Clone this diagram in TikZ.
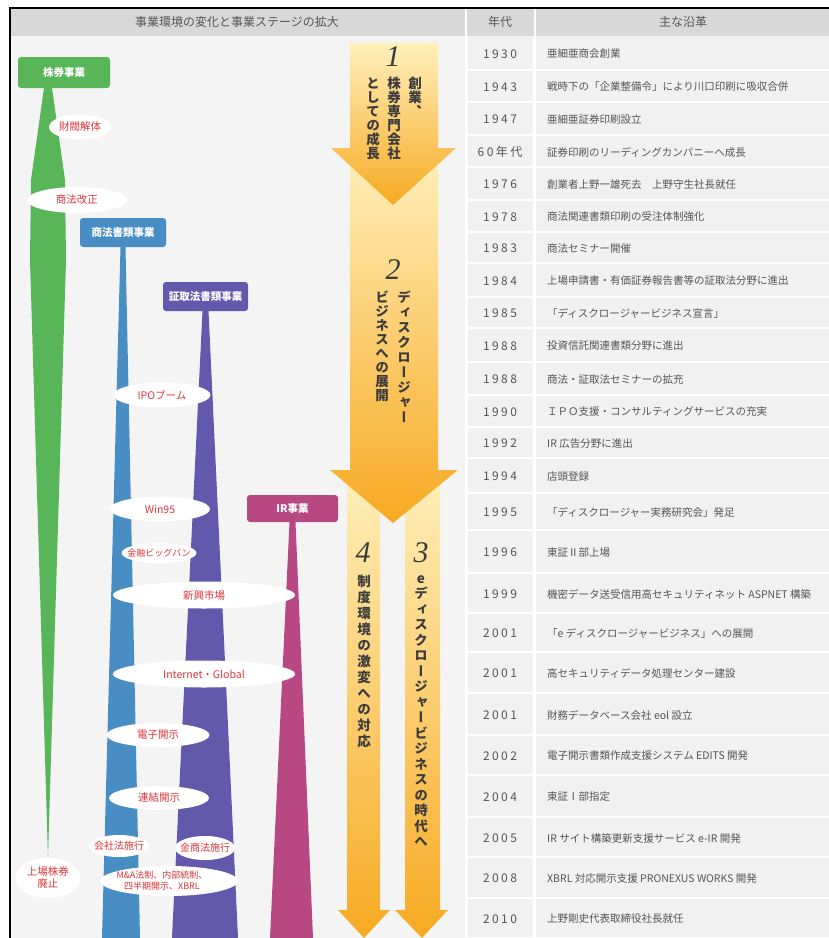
\documentclass[tikz,border=0pt]{standalone}
\usepackage{fontspec}
\usepackage{graphicx}
\setmainfont{Noto Sans CJK JP}
\newfontfamily\vjp{Noto Sans CJK JP}[RawFeature=+vert]
\newfontfamily\yearf{Noto Sans CJK JP}[LetterSpace=20]
\newfontfamily\numf{Liberation Serif}
\usetikzlibrary{shapes.geometric}
\definecolor{bgc}{RGB}{244,244,244}
\definecolor{hdrc}{RGB}{216,216,216}
\definecolor{cellc}{RGB}{241,241,241}
\definecolor{txtc}{RGB}{85,85,85}
\definecolor{vtc}{RGB}{60,60,60}
\definecolor{evred}{RGB}{222,52,58}
\definecolor{gc}{RGB}{88,182,88}
\definecolor{bc}{RGB}{72,142,196}
\definecolor{pc}{RGB}{98,88,172}
\definecolor{mc}{RGB}{184,72,132}
\definecolor{paleY}{RGB}{255,240,188}
\definecolor{deepO}{RGB}{247,170,34}
\makeatletter
\newcommand\vtxt[2][14pt]{\vbox{\baselineskip=#1\relax\lineskiplimit=-20pt\relax\@tfor\vch:=#2\do{\hbox to 1em{\hss\vch\hss}}}}
\makeatother
\newcommand\evt[6]{\fill[white] (#2,#3) ellipse ({#4/2*1pt} and {#5/2*1pt});
  \node[evtxt] (#1) at (#2,#3) {#6};}
\tikzset{
  bizbox/.style={rounded corners=3pt, text=white, inner sep=0pt,
    font=\bfseries\fontsize{10.5}{12}\selectfont},
  evtxt/.style={text=evred, inner sep=0pt, align=center,
    font=\fontsize{10.5}{12}\selectfont},
  hdrtxt/.style={text=txtc, inner sep=0pt, font=\fontsize{12}{14}\selectfont},
  yeartxt/.style={text=txtc, inner sep=0pt, font=\yearf\fontsize{12}{14}\selectfont},
  itemtxt/.style={text=txtc, inner sep=0pt, anchor=west, font=\fontsize{10.5}{12}\selectfont},
  vlabel/.style={text=vtc, inner sep=0pt, anchor=north, font=\vjp\bfseries\fontsize{13.5}{14}\selectfont},
  numlabel/.style={text=vtc, inner sep=0pt, font=\numf\itshape\fontsize{30}{30}\selectfont},
  arrowshade/.style={top color=paleY, bottom color=deepO}
}
\begin{document}
\begin{tikzpicture}[x=1pt,y=-1pt]
\useasboundingbox (0,0) rectangle (829,938);
\fill[white] (0,0) rectangle (829,938);
\fill[bgc] (10,8) rectangle (829,938);
% header
\fill[hdrc] (10,9) rectangle (829,36);
\draw[white,line width=2.5pt] (466,9) -- (466,36) (535,9) -- (535,36);
\node[hdrtxt] (h1) at (237,22) {事業環境の変化と事業ステージの拡大};
\node[hdrtxt] (h2) at (500,22) {年代};
\node[hdrtxt] (h3) at (683,22) {主な沿革};
% table
\fill[cellc] (467,36) rectangle (829,938);
\draw[white,line width=3pt] (466,36) -- (466,938) (534,36) -- (534,938);
\foreach \t/\b/\yr/\tx [count=\i] in {
 36/70/1930/亜細亜商会創業,
 70/102/1943/戦時下の「企業整備令」により川口印刷に吸収合併,
 102/135/1947/亜細亜証券印刷設立,
 135/167/60年代/証券印刷のリーディングカンパニーへ成長,
 167/200/1976/創業者上野一雄死去　上野守生社長就任,
 200/232/1978/商法関連書類印刷の受注体制強化,
 232/263/1983/商法セミナー開催,
 263/297/1984/上場申請書・有価証券報告書等の証取法分野に進出,
 297/328/1985/「ディスクロージャービジネス宣言」,
 328/362/1988/投資信託関連書類分野に進出,
 362/395/1988/商法・証取法セミナーの拡充,
 395/427/1990/ＩＰＯ支援・コンサルティングサービスの充実,
 427/458/1992/IR 広告分野に進出,
 458/493/1994/店頭登録,
 493/530/1995/「ディスクロージャー実務研究会」発足,
 530/573/1996/東証Ⅱ部上場,
 573/613/1999/機密データ送受信用高セキュリティネット ASPNET 構築,
 613/652/2001/「e ディスクロージャービジネス」への展開,
 652/693/2001/高セキュリティデータ処理センター建設,
 693/735/2001/財務データベース会社 eol 設立,
 735/775/2002/電子開示書類作成支援システム EDITS 開発,
 775/817/2004/東証Ⅰ部指定,
 817/857/2005/IR サイト構築更新支援サービス e-IR 開発,
 857/898/2008/XBRL 対応開示支援 PRONEXUS WORKS 開発,
 898/938/2010/上野剛史代表取締役社長就任}{
  \draw[white,line width=1.5pt] (467,\b) -- (829,\b);
  \node[yeartxt] (yr\i) at (500,{(\t+\b)/2+1}) {\yr};
  \node[itemtxt] (it\i) at (547,{(\t+\b)/2+1}) {\tx};
}
% stage arrows (3,4 behind 2, 2 behind 1)
\shade[arrowshade] (347,470) -- (380,470) -- (380,910) -- (390,910) -- (364,938) -- (338,910) -- (347,910) -- cycle;
\shade[arrowshade] (405,470) -- (440,470) -- (440,910) -- (448,910) -- (422,938) -- (395,910) -- (405,910) -- cycle;
\shade[arrowshade] (350,150) -- (438,150) -- (438,470) -- (458,470) -- (393,523) -- (330,470) -- (350,470) -- cycle;
\shade[arrowshade] (350,43) -- (438,43) -- (438,148) -- (456,148) -- (393,205) -- (331,148) -- (350,148) -- cycle;
% stage labels
\node[numlabel] (n1) at (393,57) {1};
\node[vlabel] (s1a) at (415,77) {\vtxt{創業、}};
\node[vlabel] (s1b) at (394,77) {\vtxt{株券専門会社}};
\node[vlabel] (s1c) at (373,77) {\vtxt{としての成長}};
\node[numlabel] (n2) at (393,270) {2};
\node[vlabel] (s2a) at (404,291) {\vtxt[15pt]{ディスクロージャー}};
\node[vlabel] (s2b) at (382,291) {\vtxt[14pt]{ビジネスへの展開}};
\node[numlabel] (n4) at (363,553) {4};
\node[vlabel] (s4) at (364,575) {\vtxt[16pt]{制度環境の激変への対応}};
\node[numlabel] (n3) at (421,553) {3};
\node[vlabel] (s3) at (421,575) {\vtxt[15.5pt]{eディスクロージャービジネスの時代へ}};
% business lines
\coordinate (gtop) at (48,88);
\fill[gc] ([xshift=-4pt]gtop) -- ([xshift=4pt]gtop) -- (65,180) -- (66,260) -- (48,857) -- (30,260) -- (31,180) -- cycle;
\node[bizbox, fill=gc, minimum width=92pt, minimum height=31pt] (kabu) at (64,72.5) {株券事業};
\node[bizbox, fill=bc, minimum width=86pt, minimum height=29pt] (shoho) at (123,232.5) {商法書類事業};
\fill[bc] ([xshift=-2.5pt]shoho.south) -- ([xshift=2.5pt]shoho.south) -- (140,938) -- (102,938) -- cycle;
\node[bizbox, fill=pc, minimum width=85pt, minimum height=29pt] (shotori) at (205.5,296.5) {証取法書類事業};
\fill[pc] ([xshift=-3pt]shotori.south) -- ([xshift=3pt]shotori.south) -- (238,938) -- (172,938) -- cycle;
\node[bizbox, fill=mc, minimum width=91pt, minimum height=27pt] (ir) at (292.5,508.5) {IR事業};
\fill[mc] ([xshift=-3pt]ir.south) -- ([xshift=3pt]ir.south) -- (313,938) -- (270,938) -- cycle;
% events
\evt{e1}{80}{127}{62}{25}{財閥解体}
\evt{e2}{77}{200}{100}{26}{商法改正}
\evt{e3}{162}{395}{97}{25}{IPOブーム}
\evt{e4}{160}{509}{100}{25}{Win95}
\fill[white] (159,553) ellipse (37.5pt and 10pt);
\node[evtxt, font=\fontsize{9}{10}\selectfont] (e5) at (159,553) {金融ビッグバン};
\evt{e6}{204}{595}{182}{27}{新興市場}
\evt{e7}{204}{674}{182}{27}{Internet・Global}
\evt{e8}{158}{735}{103}{24}{電子開示}
\evt{e9}{159}{798}{100}{24}{連結開示}
\fill[white] (119,846) ellipse (30pt and 11pt);
\node[evtxt, font=\fontsize{10}{11}\selectfont] (e10) at (119,846) {会社法施行};
\fill[white] (205,848) ellipse (30pt and 12pt);
\node[evtxt, font=\fontsize{10}{11}\selectfont] (e11) at (205,848) {金商法施行};
\fill[white] (169,881) ellipse (69pt and 15pt);
\node[evtxt, font=\fontsize{9}{11}\selectfont] (e12) at (162,881) {M\&A法制、内部統制、\\四半期開示、XBRL};
\evt{e13}{48}{878}{65}{40}{上場株券\\廃止}
% frame
\draw[black,line width=2pt] (10,938) -- (10,8) -- (829,8);
\end{tikzpicture}
\end{document}
